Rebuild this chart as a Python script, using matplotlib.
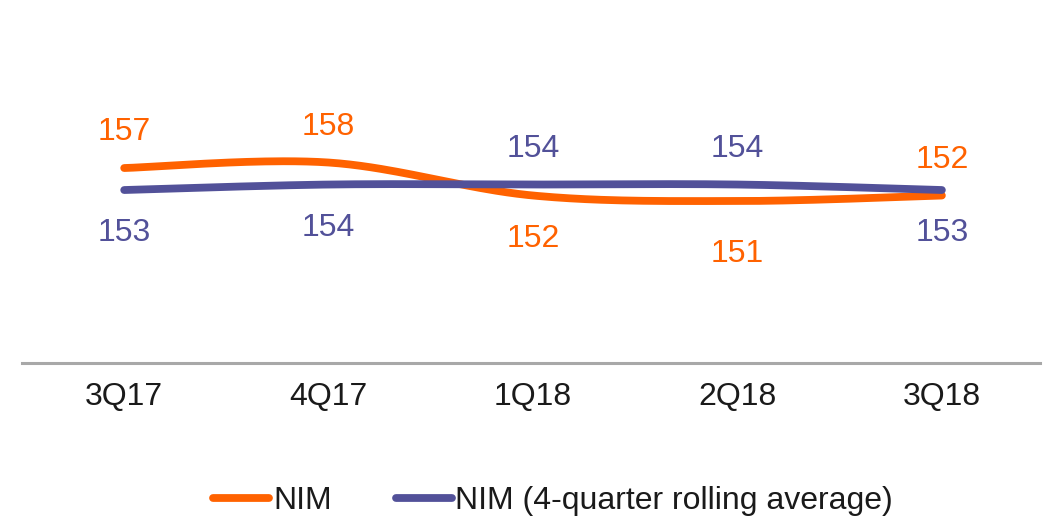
import matplotlib
matplotlib.use("Agg")
import matplotlib.pyplot as plt
import numpy as np

# data
quarters = ["3Q17", "4Q17", "1Q18", "2Q18", "3Q18"]
nim = [157, 158, 152, 151, 152]
nim_avg = [153, 154, 154, 154, 153]

# label placement (+1 above the line, -1 below)
nim_side = [1, 1, -1, -1, 1]
avg_side = [-1, -1, 1, 1, -1]

orange = "#FF6200"
purple = "#525199"

plt.rcParams["font.family"] = ["Liberation Sans", "DejaVu Sans"]


def smooth(xs, ys, n=40):
    # excel-like smoothed line (catmull-rom as cubic bezier)
    pts = np.column_stack([xs, ys]).astype(float)
    out = [pts[0]]
    for i in range(len(pts) - 1):
        p0 = pts[i - 1] if i > 0 else pts[i]
        p1 = pts[i]
        p2 = pts[i + 1]
        p3 = pts[i + 2] if i + 2 < len(pts) else pts[i + 1]
        c1 = p1 + (p2 - p0) / 6
        c2 = p2 - (p3 - p1) / 6
        t = np.linspace(0, 1, n)[1:, None]
        seg = ((1 - t) ** 3) * p1 + 3 * ((1 - t) ** 2) * t * c1 + 3 * (1 - t) * t ** 2 * c2 + t ** 3 * p2
        out.extend(seg)
    out = np.array(out)
    return out[:, 0], out[:, 1]


fig = plt.figure(figsize=(10.48, 5.19), dpi=100)
ax = fig.add_axes([22 / 1048, 1 - 363 / 519, 1018 / 1048, 363 / 519])

x = np.arange(len(quarters))
sx, sy = smooth(x, nim)
ax.plot(sx, sy, color=orange, lw=5.6, solid_capstyle="round", label="NIM", zorder=3)
sx, sy = smooth(x, nim_avg)
ax.plot(sx, sy, color=purple, lw=5.6, solid_capstyle="round",
        label="NIM (4-quarter rolling average)", zorder=3)

fs = 23
for i in range(len(x)):
    # baseline offsets in points: above ~ +20, below ~ -37
    dy = 20 if nim_side[i] > 0 else -37
    if nim[i] == min(nim):
        dy -= 7
    ax.annotate(str(nim[i]), (x[i], nim[i]), xytext=(0, dy),
                textcoords="offset points", ha="center", va="baseline",
                color=orange, fontsize=fs)
    dy = 20 if avg_side[i] > 0 else -37
    ax.annotate(str(nim_avg[i]), (x[i], nim_avg[i]), xytext=(0, dy),
                textcoords="offset points", ha="center", va="baseline",
                color=purple, fontsize=fs)

ax.set_xlim(-0.5, 4.48)
ax.set_ylim(121.55, 187.55)
ax.set_xticks(x)
ax.set_xticklabels(quarters, fontsize=fs, color="#1a1a1a")
ax.tick_params(axis="x", length=0, pad=14)
ax.set_yticks([])
for s in ["top", "left", "right"]:
    ax.spines[s].set_visible(False)
ax.spines["bottom"].set_color("#A8A8A8")
ax.spines["bottom"].set_linewidth(2.2)

leg = fig.legend(loc="center", bbox_to_anchor=(0.528, 0.035), ncol=2, frameon=False,
                 fontsize=fs, handlelength=1.75, handletextpad=0.12, columnspacing=2.0)
for t in leg.get_texts():
    t.set_color("#1a1a1a")

fig.savefig("out.png", dpi=100)
